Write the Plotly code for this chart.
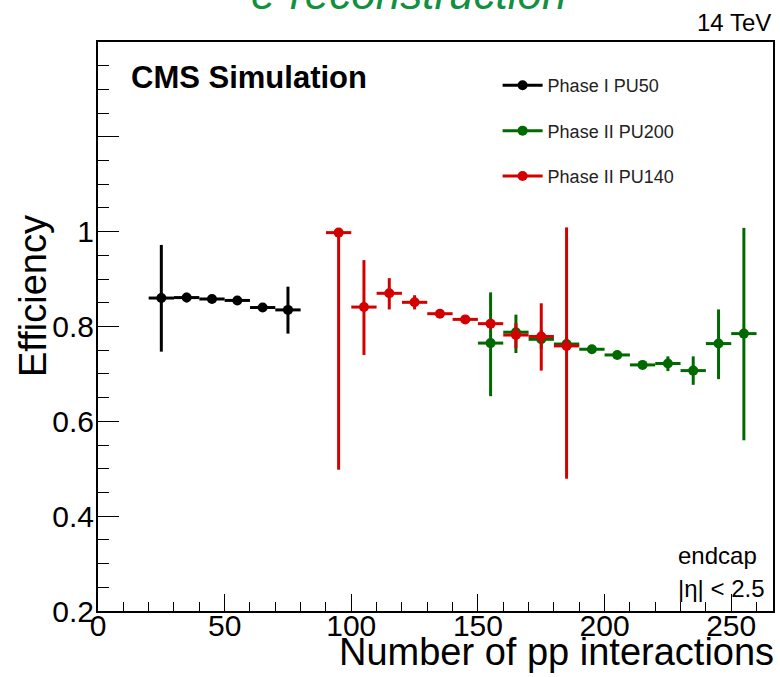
import plotly.graph_objects as go

# ---- data ----
pu50_x = [25, 35, 45, 55, 65, 75]
pu50_y = [0.860, 0.861, 0.858, 0.855, 0.840, 0.835]
pu50_eup = [0.112, 0.010, 0.006, 0.006, 0.008, 0.049]
pu50_edn = [0.113, 0.010, 0.006, 0.006, 0.008, 0.050]

pu200_x = [155, 165, 175, 185, 195, 205, 215, 225, 235, 245, 255]
pu200_y = [0.765, 0.788, 0.773, 0.763, 0.752, 0.740, 0.719, 0.722, 0.707, 0.764, 0.785]
pu200_eup = [0.107, 0.037, 0.020, 0.015, 0.006, 0.006, 0.006, 0.015, 0.030, 0.072, 0.223]
pu200_edn = [0.112, 0.044, 0.020, 0.015, 0.006, 0.006, 0.006, 0.016, 0.030, 0.075, 0.225]

pu140_x = [95, 105, 115, 125, 135, 145, 155, 165, 175, 185]
pu140_y = [0.998, 0.841, 0.870, 0.851, 0.827, 0.815, 0.806, 0.782, 0.779, 0.759]
pu140_eup = [0.002, 0.099, 0.032, 0.015, 0.005, 0.005, 0.010, 0.025, 0.070, 0.250]
pu140_edn = [0.500, 0.101, 0.034, 0.015, 0.005, 0.005, 0.010, 0.028, 0.072, 0.280]

bin_half = 5

series = [
    ("Phase I PU50", "#000000", pu50_x, pu50_y, pu50_eup, pu50_edn),
    ("Phase II PU200", "#006a00", pu200_x, pu200_y, pu200_eup, pu200_edn),
    ("Phase II PU140", "#d40000", pu140_x, pu140_y, pu140_eup, pu140_edn),
]

y_tickvals = [0.2, 0.4, 0.6, 0.8, 1.0, 1.2]
y_ticktext = ["0.2", "0.4", "0.6", "0.8", "1", ""]
x_tickvals = [0, 50, 100, 150, 200, 250]
x_ticktext = ["0", "50", "100", "150", "200", "250"]

FONT = "Liberation Sans, Arial, Helvetica, sans-serif"

fig = go.Figure()

for name, color, xs, ys, eu, ed in series:
    fig.add_trace(go.Scatter(
        x=xs, y=ys, mode="markers", showlegend=False,
        marker=dict(color=color, size=10),
        error_y=dict(type="data", symmetric=False, array=eu, arrayminus=ed,
                     color=color, thickness=3, width=0),
        error_x=dict(type="constant", value=bin_half, color=color,
                     thickness=3, width=0),
    ))

for i, (name, color, xs, ys, eu, ed) in enumerate(series):
    fig.add_trace(go.Scatter(
        x=[None], y=[None], mode="lines+markers", name=name,
        legendgroup=f"g{i}",
        line=dict(color=color, width=3),
        marker=dict(color=color, size=10),
    ))

fig.update_layout(
    width=780, height=677,
    margin=dict(l=98, r=5, t=42, b=66),
    paper_bgcolor="white", plot_bgcolor="white",
    font=dict(family=FONT, color="black"),
    showlegend=True,
    legend=dict(x=0.592, y=0.956, xanchor="left", yanchor="top",
                bgcolor="rgba(0,0,0,0)", font=dict(size=18, color="#222"),
                tracegroupgap=19, itemwidth=40),
    xaxis=dict(range=[0, 266.5], showgrid=False, zeroline=False,
               showline=True, linecolor="black", linewidth=2, mirror=True,
               ticks="inside", ticklen=17, tickwidth=1, tickcolor="black",
               tickvals=x_tickvals, ticktext=x_ticktext,
               tickfont=dict(size=30, family=FONT), ticklabelstandoff=-13,
               minor=dict(dtick=10, ticks="inside", ticklen=9,
                          tickcolor="black", tickwidth=1)),
    yaxis=dict(range=[0.2, 1.4], showgrid=False, zeroline=False,
               showline=True, linecolor="black", linewidth=2, mirror=True,
               ticks="inside", ticklen=21, tickwidth=1, tickcolor="black",
               tickvals=y_tickvals, ticktext=y_ticktext,
               tickfont=dict(size=30, family=FONT), ticklabelstandoff=-4,
               minor=dict(dtick=0.05, tick0=0.2, ticks="inside", ticklen=11,
                          tickcolor="black", tickwidth=1)),
)

ann = [
    dict(text="<i>e-reconstruction</i>", x=0.46, y=1.085, xanchor="center",
         yanchor="middle", font=dict(size=44, color="#12903f", family=FONT)),
    dict(text="14 TeV", x=1.0, y=1.035, xanchor="right", yanchor="middle",
         font=dict(size=24)),
    dict(text="<b>CMS Simulation</b>", x=0.046, y=0.937, xanchor="left",
         yanchor="middle", font=dict(size=31)),
    dict(text="Efficiency", x=-0.096, y=0.554, xanchor="center",
         yanchor="middle", textangle=-90, font=dict(size=38)),
    dict(text="Number of pp interactions", x=1.005, y=-0.072,
         xanchor="right", yanchor="middle", font=dict(size=38)),
    dict(text="endcap", x=0.857, y=0.098, xanchor="left", yanchor="middle",
         font=dict(size=24)),
    dict(text="|η| < 2.5", x=0.857, y=0.040, xanchor="left", yanchor="middle",
         font=dict(size=24)),
]
for a in ann:
    a.update(xref="paper", yref="paper", showarrow=False)
    fig.add_annotation(**a)

fig.write_html("out.html")
